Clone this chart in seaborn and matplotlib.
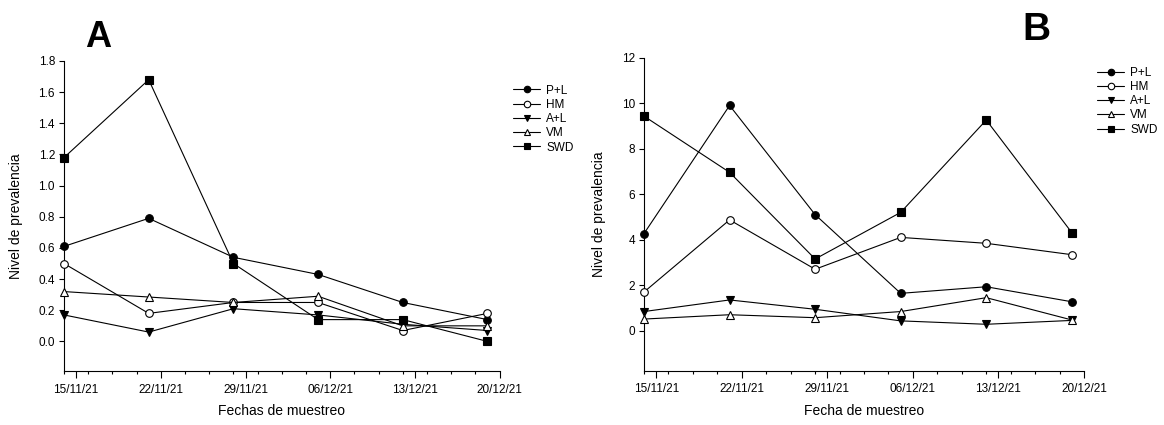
import matplotlib
matplotlib.use('Agg')
import matplotlib.pyplot as plt
import matplotlib.dates as mdates
import seaborn as sns
import pandas as pd
import numpy as np

# Sampling dates and series
fechas = ['2021-11-14', '2021-11-21', '2021-11-28', '2021-12-05', '2021-12-12', '2021-12-19']
series = ['P+L', 'HM', 'A+L', 'VM', 'SWD']

# Panel A values
a_pl = [0.61, 0.79, 0.54, 0.43, 0.25, 0.14]
a_hm = [0.50, 0.18, 0.25, 0.25, 0.07, 0.18]
a_al = [0.17, 0.06, 0.21, 0.17, 0.11, 0.07]
a_vm = [0.32, 0.285, 0.25, 0.29, 0.10, 0.10]
a_swd = [1.18, 1.68, 0.50, 0.14, 0.14, 0.00]

# Panel B values
b_pl = [4.27, 9.90, 5.10, 1.64, 1.93, 1.27]
b_hm = [1.70, 4.87, 2.70, 4.10, 3.84, 3.34]
b_al = [0.84, 1.35, 0.94, 0.43, 0.28, 0.45]
b_vm = [0.51, 0.70, 0.57, 0.84, 1.45, 0.47]
b_swd = [9.43, 6.96, 3.15, 5.20, 9.26, 4.31]

markers = {'P+L': ('o', 'black'), 'HM': ('o', 'white'), 'A+L': ('v', 'black'),
           'VM': ('^', 'white'), 'SWD': ('s', 'black')}


def to_long(vals):
    rows = []
    for s, v in zip(series, vals):
        for f, y in zip(fechas, v):
            rows.append({'fecha': pd.Timestamp(f), 'serie': s, 'valor': y})
    return pd.DataFrame(rows)


df_a = to_long([a_pl, a_hm, a_al, a_vm, a_swd])
df_b = to_long([b_pl, b_hm, b_al, b_vm, b_swd])

sns.set_style('ticks')
plt.rcParams['font.family'] = ['Liberation Sans', 'DejaVu Sans']
for k in ['text.color', 'axes.labelcolor', 'xtick.color', 'ytick.color', 'axes.edgecolor']:
    plt.rcParams[k] = 'black'

fig = plt.figure(figsize=(11.64, 4.25), dpi=100)
ax_a = fig.add_axes([0.055, 0.127, 0.3742, 0.7295])
ax_b = fig.add_axes([0.5533, 0.1278, 0.378, 0.7364])


def draw_panel(ax, df):
    for s in series:
        m, fc = markers[s]
        sns.lineplot(data=df[df['serie'] == s], x='fecha', y='valor', ax=ax,
                     color='black', linewidth=0.8, marker=m, markersize=5.5,
                     markerfacecolor=fc, markeredgecolor='black',
                     markeredgewidth=0.8, estimator=None, errorbar=None,
                     legend=False, clip_on=False, zorder=3)
    ax.set_xlim(pd.Timestamp('2021-11-14'), pd.Timestamp('2021-12-20'))
    major = pd.date_range('2021-11-15', '2021-12-20', freq='7D')
    minor = pd.date_range('2021-11-14', '2021-12-20', freq='2D')
    ax.set_xticks(major)
    ax.set_xticks(minor, minor=True)
    ax.xaxis.set_major_formatter(mdates.DateFormatter('%d/%m/%y'))
    ax.tick_params(axis='x', which='major', length=5, width=0.8, labelsize=8.5, pad=4)
    ax.tick_params(axis='x', which='minor', length=2.5, width=0.8)
    ax.tick_params(axis='y', length=3.5, width=0.8, labelsize=8.5, pad=3)
    for sp in ['left', 'bottom']:
        ax.spines[sp].set_linewidth(0.8)
    sns.despine(ax=ax)
    ax.set_ylabel('Nivel de prevalencia', fontsize=10)
    ax.xaxis.set_label_coords(0.5, -0.105)
    handles = ax.lines[:len(series)]
    return handles


h_a = draw_panel(ax_a, df_a)
ax_a.set_ylim(-0.19, 1.8)
ax_a.set_yticks(np.arange(0, 1.81, 0.2))
ax_a.yaxis.set_major_formatter(matplotlib.ticker.FormatStrFormatter('%.1f'))
ax_a.set_xlabel('Fechas de muestreo', fontsize=10)
ax_a.xaxis.label.set_va('top')
ax_a.yaxis.set_label_coords(-0.094, 0.5)

h_b = draw_panel(ax_b, df_b)
ax_b.set_ylim(-1.76, 12)
ax_b.set_yticks(np.arange(0, 13, 2))
ax_b.set_xlabel('Fecha de muestreo', fontsize=10)
ax_b.xaxis.label.set_va('top')
ax_b.yaxis.set_label_coords(-0.086, 0.5)

for ax, h, pos in [(ax_a, h_a, (0.4407, 0.801)), (ax_b, h_b, (0.9424, 0.843))]:
    ax.legend(h, series, loc='upper left', bbox_to_anchor=pos,
              bbox_transform=fig.transFigure, frameon=False, fontsize=8.5,
              handlelength=2.3, handletextpad=0.5, labelspacing=0.19,
              borderpad=0, borderaxespad=0, numpoints=1, markerscale=0.85)

fig.text(0.073, 0.890, 'A', fontsize=26, fontweight='bold', ha='left', va='baseline')
fig.text(0.878, 0.906, 'B', fontsize=28, fontweight='bold', ha='left', va='baseline')

fig.savefig('out.png', dpi=100)
